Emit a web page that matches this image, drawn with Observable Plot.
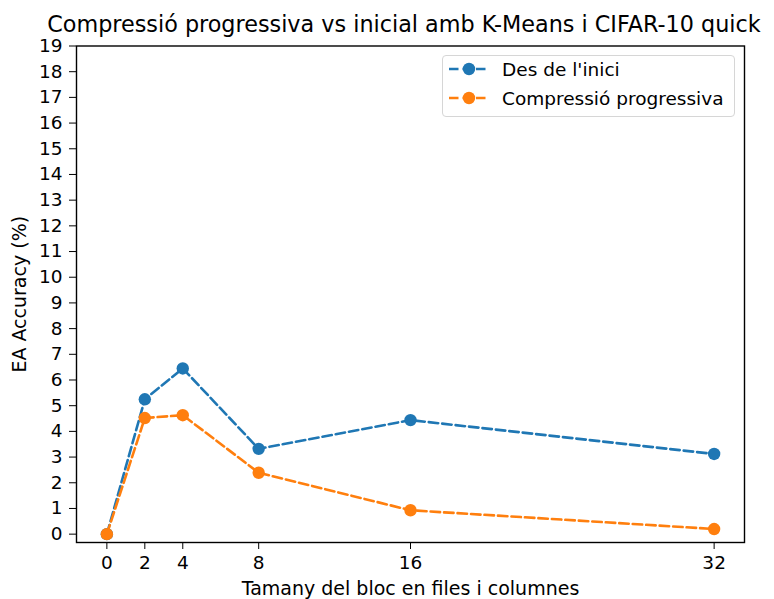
<!DOCTYPE html>
<html>
<head>
<meta charset="utf-8">
<script src="https://cdn.jsdelivr.net/npm/d3@7"></script>
<script src="https://cdn.jsdelivr.net/npm/@observablehq/plot@0.6"></script>
<style>
  html, body { margin: 0; padding: 0; background: #fff; }
  #fig { position: relative; width: 774px; height: 599px; font-family: "DejaVu Sans", sans-serif; }
  #title { height: 30px; width: 774px; padding-left: 34px; box-sizing: border-box; text-align: center; font-size: 22.3px; line-height: 30px; white-space: nowrap; color: #000; position: relative; top: 9px; z-index: 2; }
  #legend { position: absolute; left: 442px; top: 55px; width: 293px; height: 62px; box-sizing: border-box;
            border: 1px solid #d6d6d6; border-radius: 4px; background: rgba(255,255,255,0.8); font-size: 18.5px; z-index: 3; }
  .row { position: absolute; left: 5px; height: 22px; display: flex; align-items: center; white-space: nowrap; }
  .row svg { width: 42px; height: 22px; }
  .row span { margin-left: 12px; color: #000; }
</style>
</head>
<body>
<div id="fig">
  <div id="title">Compressió progressiva vs inicial amb K-Means i CIFAR-10 quick</div>
  <div id="chart"></div>
  <div id="legend"></div>
</div>
<script>
// Block sizes (rows and columns per block)
const blockSizes = [0, 2, 4, 8, 16, 32];
// EA accuracy (%) when compressing from the start
const fromStart = [0, 5.25, 6.45, 3.32, 4.44, 3.12];
// EA accuracy (%) with progressive compression
const progressive = [0, 4.52, 4.63, 2.39, 0.93, 0.2];
// Series names and colours
const seriesNames = ["Des de l'inici", "Compressió progressiva"];
const seriesColors = ["#1f77b4", "#ff7f0e"];
// Tick values
const xTicks = [0, 2, 4, 8, 16, 32];
const yTicks = d3.range(0, 20);

const rows = [
  ...blockSizes.map((b, i) => ({size: b, acc: fromStart[i], series: seriesNames[0]})),
  ...blockSizes.map((b, i) => ({size: b, acc: progressive[i], series: seriesNames[1]}))
];

const font = '"DejaVu Sans", sans-serif';
const dash = "9.5,4";
const lineWidth = 2.6;
const dotRadius = 6.2;

// One dashed line plus round markers per series, orange drawn last
const seriesMarks = seriesNames.flatMap((name, k) => {
  const d = rows.filter(r => r.series === name);
  return [
    Plot.line(d, {x: "size", y: "acc", stroke: seriesColors[k], strokeWidth: lineWidth, strokeDasharray: dash}),
    Plot.dot(d, {x: "size", y: "acc", r: dotRadius, fill: seriesColors[k], stroke: "none"})
  ];
});

const chart = Plot.plot({
  width: 774,
  height: 569,
  marginTop: 15.5,
  marginBottom: 57,
  marginLeft: 76,
  marginRight: 30,
  style: {fontFamily: font, fontSize: "18.5px", color: "#000", background: "#fff", overflow: "visible"},
  x: {domain: [-1.6, 33.6]},
  y: {domain: [-0.325, 19]},
  marks: [
    Plot.axisY({ticks: yTicks, tickSize: 7, tickPadding: 7, label: null, fontSize: 18.5}),
    Plot.axisY({ticks: [], tickSize: 0, label: "EA Accuracy (%)", labelAnchor: "center", labelOffset: 64, labelArrow: false, fontSize: 19}),
    Plot.axisX({ticks: xTicks, tickSize: 7, tickPadding: 6, label: null, fontSize: 18.5}),
    Plot.axisX({ticks: [], tickSize: 0, label: "Tamany del bloc en files i columnes", labelAnchor: "center", labelOffset: 52, labelArrow: false, fontSize: 19}),
    ...seriesMarks,
    Plot.frame({stroke: "#000", strokeWidth: 1.4})
  ]
});
document.getElementById("chart").appendChild(chart);

// Legend entries: dashed line sample with a marker, then the series name
const legend = d3.select("#legend");
seriesNames.forEach((name, k) => {
  const row = legend.append("div").attr("class", "row").style("top", (k === 0 ? 2 : 31) + "px");
  const s = row.append("svg");
  s.append("line").attr("x1", 1).attr("x2", 41).attr("y1", 11).attr("y2", 11)
    .attr("stroke", seriesColors[k]).attr("stroke-width", lineWidth).attr("stroke-dasharray", dash);
  s.append("circle").attr("cx", 21).attr("cy", 11).attr("r", dotRadius).attr("fill", seriesColors[k]);
  row.append("span").text(name);
});
</script>
</body>
</html>
